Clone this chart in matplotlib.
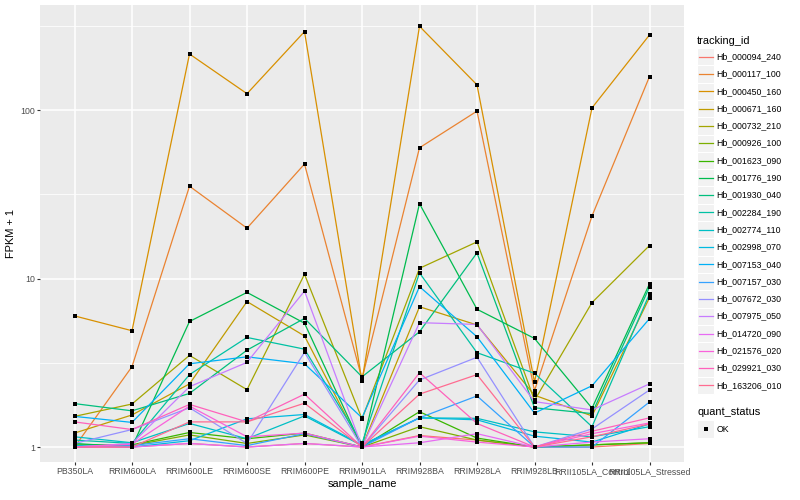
import matplotlib
matplotlib.use("Agg")
import matplotlib.pyplot as plt
from matplotlib.lines import Line2D
from matplotlib.patches import Rectangle

plt.rcParams["font.family"] = ["Liberation Sans", "DejaVu Sans"]

# samples on the x axis
samples = [
    "PB350LA", "RRIM600LA", "RRIM600LE", "RRIM600SE", "RRIM600PE", "RRIM901LA",
    "RRIM928BA", "RRIM928LA", "RRIM928LB", "RRII105LA_Control", "RRII105LA_Stressed",
]

# FPKM + 1 per tracking_id
hb_000094_240 = [1.00, 1.00, 1.05, 1.00, 1.05, 1.00, 1.17, 1.10, 1.00, 1.00, 1.05]
hb_000117_100 = [1.00, 3.00, 35.3, 19.9, 47.8, 2.54, 59.7, 98.5, 2.16, 23.5, 158]
hb_000450_160 = [6.00, 4.90, 215, 125, 292, 2.46, 314, 141, 2.43, 103, 279]
hb_000671_160 = [1.21, 1.55, 2.37, 7.30, 4.56, 1.00, 6.80, 5.30, 2.03, 1.53, 7.70]
hb_000732_210 = [1.52, 1.80, 3.50, 2.19, 10.6, 1.47, 11.5, 16.5, 1.89, 7.20, 15.7]
hb_000926_100 = [1.00, 1.02, 1.18, 1.05, 1.18, 1.00, 1.32, 1.10, 1.00, 1.03, 1.06]
hb_001623_090 = [1.03, 1.03, 1.22, 1.12, 1.21, 1.00, 1.62, 1.13, 1.00, 1.03, 1.06]
hb_001776_190 = [1.05, 1.00, 5.56, 8.27, 5.43, 1.00, 27.8, 6.57, 4.41, 1.70, 9.30]
hb_001930_040 = [1.81, 1.64, 2.08, 3.76, 5.80, 2.61, 4.83, 14.2, 1.71, 1.58, 8.90]
hb_002284_190 = [1.10, 1.05, 2.69, 4.47, 3.81, 1.05, 10.8, 3.63, 2.74, 1.32, 8.10]
hb_002774_110 = [1.15, 1.06, 1.38, 1.12, 1.53, 1.02, 1.49, 1.48, 1.23, 1.15, 1.32]
hb_002998_070 = [1.02, 1.00, 1.09, 1.47, 1.56, 1.03, 1.49, 1.45, 1.16, 1.07, 1.37]
hb_007153_040 = [1.52, 1.40, 3.12, 3.43, 3.12, 1.49, 8.95, 4.51, 1.59, 2.31, 5.78]
hb_007157_030 = [1.00, 1.02, 1.12, 1.02, 1.20, 1.00, 1.49, 2.01, 1.00, 1.00, 1.85]
hb_007672_030 = [1.05, 1.27, 1.71, 1.05, 3.65, 1.00, 2.50, 3.41, 1.00, 1.28, 2.18]
hb_007975_050 = [1.00, 1.05, 2.28, 3.18, 8.43, 1.00, 5.47, 5.34, 1.86, 1.66, 2.37]
hb_014720_090 = [1.00, 1.00, 1.05, 1.00, 1.05, 1.00, 1.06, 1.20, 1.00, 1.07, 1.12]
hb_021576_020 = [1.00, 1.04, 1.75, 1.15, 1.21, 1.00, 1.16, 1.07, 1.00, 1.20, 1.39]
hb_029921_030 = [1.41, 1.27, 1.79, 1.41, 2.06, 1.00, 2.76, 1.38, 1.00, 1.24, 1.49]
hb_163206_010 = [1.00, 1.00, 1.41, 1.41, 1.82, 1.00, 2.06, 2.69, 1.00, 1.15, 1.37]

tracking_ids = [
    "Hb_000094_240", "Hb_000117_100", "Hb_000450_160", "Hb_000671_160", "Hb_000732_210",
    "Hb_000926_100", "Hb_001623_090", "Hb_001776_190", "Hb_001930_040", "Hb_002284_190",
    "Hb_002774_110", "Hb_002998_070", "Hb_007153_040", "Hb_007157_030", "Hb_007672_030",
    "Hb_007975_050", "Hb_014720_090", "Hb_021576_020", "Hb_029921_030", "Hb_163206_010",
]
series = [
    hb_000094_240, hb_000117_100, hb_000450_160, hb_000671_160, hb_000732_210,
    hb_000926_100, hb_001623_090, hb_001776_190, hb_001930_040, hb_002284_190,
    hb_002774_110, hb_002998_070, hb_007153_040, hb_007157_030, hb_007672_030,
    hb_007975_050, hb_014720_090, hb_021576_020, hb_029921_030, hb_163206_010,
]
# ggplot2 default hue palette for 20 levels
colors = [
    "#F8766D", "#EA8331", "#D89000", "#C09B00", "#A3A500", "#7CAE00", "#39B600",
    "#00BB4E", "#00BF7D", "#00C1A3", "#00BFC4", "#00BAE0", "#00B0F6", "#35A2FF",
    "#9590FF", "#C77CFF", "#E76BF3", "#FA62DB", "#FF62BC", "#FF6C91",
]

W, H = 800, 500
fig = plt.figure(figsize=(W / 100, H / 100), dpi=100)
ax = fig.add_axes([40 / W, 38 / H, 644 / W, 457 / H])
ax.set_facecolor("#EBEBEB")
for sp in ax.spines.values():
    sp.set_visible(False)

x = list(range(1, len(samples) + 1))
for vals, col in zip(series, colors):
    ax.plot(x, vals, color=col, lw=0.9, zorder=2, solid_capstyle="butt")
for vals in series:
    ax.plot(x, vals, "s", color="black", ms=2.7, mew=0, zorder=3)

ax.set_yscale("log")
ax.set_ylim(0.815, 420)
ax.set_xlim(0.4, len(samples) + 0.6)
ax.set_yticks([1, 10, 100])
ax.set_yticklabels(["1", "10", "100"])
ax.set_yticks([10 ** 0.5, 10 ** 1.5, 10 ** 2.5], minor=True)
ax.set_yticklabels([], minor=True)
ax.set_xticks(x)
ax.set_xticklabels(samples)
ax.grid(which="major", color="white", lw=1.1, zorder=0)
ax.grid(which="minor", axis="y", color="white", lw=0.55, zorder=0)
ax.set_axisbelow(True)
ax.tick_params(which="major", length=2.2, width=0.8, color="#333333",
               labelsize=6.3, labelcolor="#4D4D4D", pad=1.5)
ax.tick_params(which="minor", length=0)
ax.set_xlabel("sample_name", fontsize=7.9, labelpad=2)
ax.set_ylabel("FPKM + 1", fontsize=7.9, labelpad=3)


def fx(px):
    return px / W


def fy(py):
    return 1 - py / H


# tracking_id legend
fig.text(fx(697), fy(40.7), "tracking_id", fontsize=7.9, va="center", ha="left")
step = 17.3
for i, (tid, col) in enumerate(zip(tracking_ids, colors)):
    cy = 56.7 + step * i
    fig.add_artist(Rectangle((fx(697), fy(cy + step / 2)), 17 / W, step / H,
                             transform=fig.transFigure, facecolor="#F2F2F2",
                             edgecolor="white", lw=0.8))
    fig.add_artist(Line2D([fx(698.5), fx(712.5)], [fy(cy), fy(cy)],
                          transform=fig.transFigure, color=col, lw=0.9))
    fig.text(fx(716.5), fy(cy), tid, fontsize=6.3, va="center", ha="left")

# quant_status legend
fig.text(fx(697), fy(412), "quant_status", fontsize=7.9, va="center", ha="left")
fig.add_artist(Rectangle((fx(697), fy(429 + step / 2)), 17 / W, step / H,
                         transform=fig.transFigure, facecolor="#F2F2F2",
                         edgecolor="white", lw=0.8))
fig.add_artist(Line2D([fx(705.5)], [fy(429)], transform=fig.transFigure,
                      marker="s", color="black", ms=2.7, mew=0, linestyle="None"))
fig.text(fx(716.5), fy(429), "OK", fontsize=6.3, va="center", ha="left")

fig.savefig("out.png", dpi=100)
